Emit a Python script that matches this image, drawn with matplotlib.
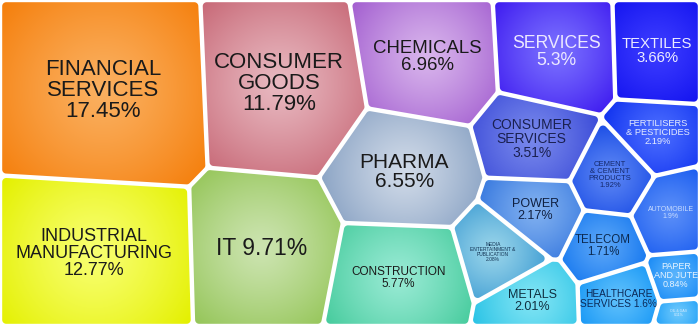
import numpy as np
import matplotlib
matplotlib.use("Agg")
import matplotlib.pyplot as plt
from matplotlib.patches import Polygon
from matplotlib.colors import to_rgb

plt.rcParams['font.family'] = ['Liberation Sans', 'DejaVu Sans']

# sector data
sectors = ["FINANCIAL\nSERVICES", "CONSUMER\nGOODS", "INDUSTRIAL\nMANUFACTURING", "IT",
           "CHEMICALS", "PHARMA", "CONSTRUCTION", "SERVICES", "TEXTILES",
           "CONSUMER\nSERVICES", "FERTILISERS\n& PESTICIDES", "CEMENT\n& CEMENT\nPRODUCTS",
           "AUTOMOBILE", "POWER", "MEDIA\nENTERTAINMENT &\nPUBLICATION", "TELECOM",
           "METALS", "PAPER\nAND JUTE", "HEALTHCARE\nSERVICES", "OIL & GAS"]
shares = [17.45, 11.79, 12.77, 9.71, 6.96, 6.55, 5.77, 5.3, 3.66, 3.51,
          2.19, 1.92, 1.9, 2.17, 2.08, 1.71, 2.01, 0.84, 1.6, 0.11]
joiner = ["\n", "\n", "\n", " ", "\n", "\n", "\n", "\n", "\n", "\n",
          "\n", "\n", "\n", "\n", "\n", "\n", "\n", "\n", " ", "\n"]

# layout: sites of the voronoi treemap (pixels, y down)
sites = np.array([[98, 88], [280, 80], [88, 255], [265, 250], [432, 55],
                  [412, 172], [408, 278], [553, 48], [655, 45], [533, 138],
                  [650, 133], [605, 175], [668, 213], [530, 212], [498, 252],
                  [597, 245], [525, 300], [673, 276], [613, 297], [676, 315]], float)

edge_cols = ["#f57f0c", "#c86a78", "#e4f000", "#96c65a", "#a35fd0", "#8ea6c6",
             "#48cc9e", "#3f1cf0", "#1515f0", "#3c4cd8", "#1234f0", "#1c4ee6",
             "#1c5ef0", "#3c7ce0", "#4aa4d6", "#1c7cf0", "#2cc4e6", "#1c8cf6",
             "#1c9af6", "#28a4f8"]
mid_cols = ["#fbb060", "#e8b8c0", "#f8ff70", "#cce4b0", "#d8b4ec", "#d0dae8",
            "#98ead4", "#7a70ff", "#3c3cff", "#7888ec", "#4a6cff", "#5c86f4",
            "#5a8ef8", "#80b0f0", "#98d4ea", "#5aa6f8", "#80e4f4", "#5ab4fc",
            "#5ec0fc", "#6cc8fc"]
text_cols = ["#1a1a1a", "#1a1a1a", "#1a1a1a", "#1a1a1a", "#1a1a1a", "#1a1a1a",
             "#1a1a1a", "#ece8ff", "#ececff", "#1a2050", "#e6ecff", "#14286a",
             "#c8dcff", "#102040", "#103050", "#0c2a50", "#103040", "#e8f4ff",
             "#0c2a58", "#d8ecff"]
font_sizes = [16, 16, 13, 16.5, 13.4, 15, 8.5, 12.7, 10.7, 10,
              6.7, 5.5, 5, 9, 3.5, 8.3, 9, 6.5, 7.3, 2.5]

W, H = 700, 326
rect = np.array([[0, 0], [W, 0], [W, H], [0, H]], float)


def clip(poly, a, b):
    # keep the part of poly where a.p <= b
    out = []
    n = len(poly)
    for k in range(n):
        p, q = poly[k], poly[(k + 1) % n]
        fp, fq = a @ p - b, a @ q - b
        if fp <= 0:
            out.append(p)
        if fp * fq < 0:
            out.append(p + fp / (fp - fq) * (q - p))
    return np.array(out) if out else np.zeros((0, 2))


def area(poly):
    if len(poly) < 3:
        return 0.0
    x, y = poly[:, 0], poly[:, 1]
    return 0.5 * abs(np.dot(x, np.roll(y, -1)) - np.dot(y, np.roll(x, -1)))


def centroid(poly):
    x, y = poly[:, 0], poly[:, 1]
    x1, y1 = np.roll(x, -1), np.roll(y, -1)
    c = x * y1 - x1 * y
    a = c.sum() / 2
    return np.array([((x + x1) * c).sum() / (6 * a), ((y + y1) * c).sum() / (6 * a)])


def power_cells(s, w):
    polys = []
    for i in range(len(s)):
        poly = rect.copy()
        for j in range(len(s)):
            if j == i:
                continue
            a = 2 * (s[j] - s[i])
            b = s[j] @ s[j] - w[j] - s[i] @ s[i] + w[i]
            poly = clip(poly, a, b)
            if len(poly) == 0:
                break
        polys.append(poly)
    return polys


# weighted voronoi with fixed sites: tune weights until areas match the shares
# (slightly compressed so the small sectors stay readable)
vals = np.maximum(np.array(shares), 0.4) ** 0.92
target = vals / vals.sum() * W * H
w = np.zeros(len(shares))
for it in range(1000):
    polys = power_cells(sites, w)
    areas = np.array([area(p) for p in polys])
    w += 0.3 * (target - areas)
polys = power_cells(sites, w)


def orient(poly):
    return 1 if (np.dot(poly[:, 0], np.roll(poly[:, 1], -1)) - np.dot(poly[:, 1], np.roll(poly[:, 0], -1))) > 0 else -1


def inset(poly, d):
    out = poly.copy()
    n = len(poly)
    sgn = orient(poly)
    for k in range(n):
        p, q = poly[k], poly[(k + 1) % n]
        e = q - p
        if np.hypot(*e) < 1e-9:
            continue
        nrm = np.array([e[1], -e[0]]) * sgn / np.hypot(*e)  # outward normal
        out = clip(out, nrm, nrm @ p - d)
        if len(out) == 0:
            break
    return out


def rounded(poly, r, steps=8):
    n = len(poly)
    sgn = orient(poly)
    pts = []
    for k in range(n):
        prv, cur, nxt = poly[k - 1], poly[k], poly[(k + 1) % n]
        e1, e2 = cur - prv, nxt - cur
        if np.hypot(*e1) < 1e-9 or np.hypot(*e2) < 1e-9:
            continue
        n1 = np.array([e1[1], -e1[0]]) * sgn / np.hypot(*e1)
        n2 = np.array([e2[1], -e2[0]]) * sgn / np.hypot(*e2)
        a1, a2 = np.arctan2(n1[1], n1[0]), np.arctan2(n2[1], n2[0])
        da = (a2 - a1 + np.pi) % (2 * np.pi) - np.pi
        for t in np.linspace(0, 1, steps):
            a = a1 + da * t
            pts.append(cur + r * np.array([np.cos(a), np.sin(a)]))
    return np.array(pts)


fig = plt.figure(figsize=(7, 3.26), dpi=100)
ax = fig.add_axes([0, 0, 1, 1])
ax.set_xlim(0, W)
ax.set_ylim(H, 0)
ax.axis('off')

gap, rad = 2.2, 4.0
for i, poly in enumerate(polys):
    if len(poly) < 3:
        continue
    core = inset(poly, gap + rad)
    if len(core) < 3:
        shape = inset(poly, gap)
    else:
        shape = rounded(core, rad)
    c = centroid(poly)
    x0, y0 = shape.min(axis=0) - 1
    x1, y1 = shape.max(axis=0) + 1
    X, Y = np.meshgrid(np.arange(x0, x1 + 1), np.arange(y0, y1 + 1))
    R = np.max(np.hypot(*(shape - c).T))
    t = np.clip(np.hypot(X - c[0], Y - c[1]) / R, 0, 1) ** 1.2
    c0, c1 = np.array(to_rgb(mid_cols[i])), np.array(to_rgb(edge_cols[i]))
    img = c0 + (c1 - c0) * t[..., None]
    patch = Polygon(shape, closed=True, facecolor='none', edgecolor='none')
    ax.add_patch(patch)
    im = ax.imshow(img, extent=(x0 - 0.5, x1 + 0.5, y1 + 0.5, y0 - 0.5),
                   interpolation='bilinear', zorder=1)
    im.set_clip_path(patch)
    label = f"{sectors[i]}{joiner[i]}{shares[i]:g}%"
    ax.text(c[0], c[1], label, ha='center', va='center', fontsize=font_sizes[i],
            color=text_cols[i], linespacing=1.0, zorder=3)

fig.savefig("out.png", dpi=100, facecolor='white')
